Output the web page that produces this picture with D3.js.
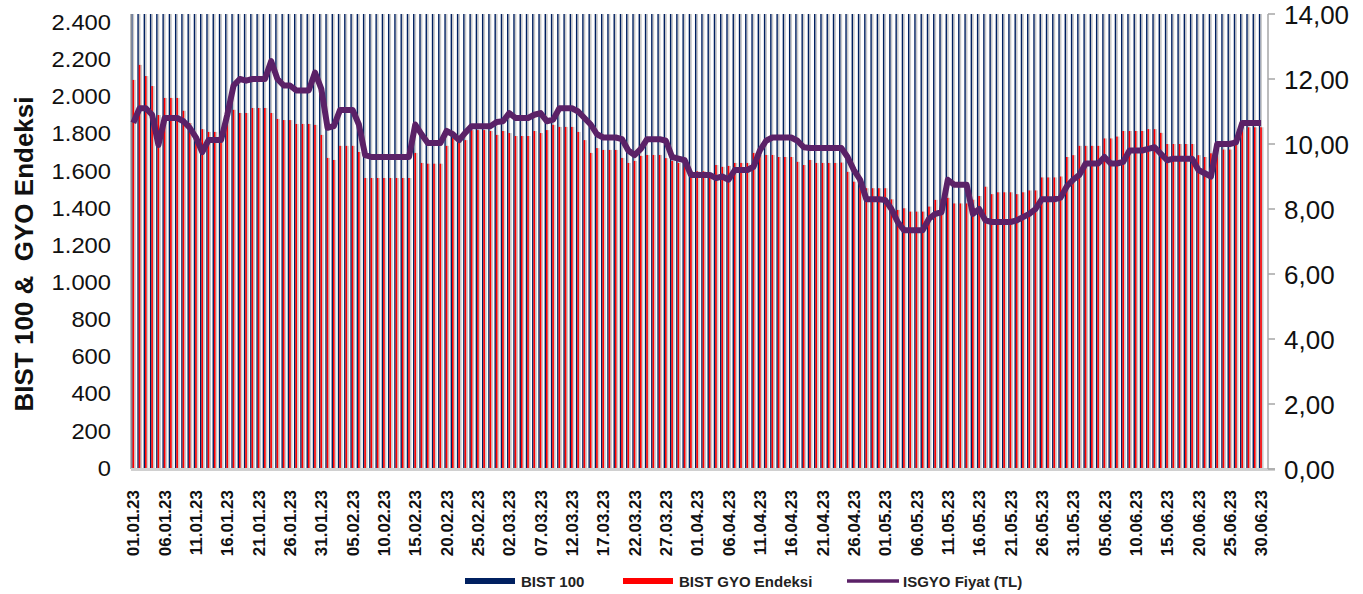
<!DOCTYPE html>
<html>
<head>
<meta charset="utf-8">
<script src="https://cdn.jsdelivr.net/npm/d3@7"></script>
<style>
  body { margin: 0; background: #fff; }
  svg text { font-family: "Liberation Sans", Arial, sans-serif; }
</style>
</head>
<body>
<svg id="chart" width="1363" height="594"></svg>
<script>
// daily categories 01.01.23 - 30.06.23
const firstDay = new Date(2023, 0, 1);
const lastDay = new Date(2023, 5, 30);

// BIST 100 (goes above the 2.400 axis max, clipped like in the source)
const bist100 = [
  5509,
  5420, 5290, 5350, 5200, 5240, 5240, 5240,
  5150, 4990, 4930, 5010, 5060, 5060, 5060,
  5110, 5170, 5180, 5140, 5190, 5190, 5190,
  5130, 5050, 5020, 4970, 4990, 4990, 4990,
  4980, 4760, 4800, 4880, 4930, 4930, 4930,
  4700, 4450, 4450, 4450, 4450, 4450, 4450,
  4450, 4450, 4560, 4850, 4700, 4700, 4700,
  4800, 4960, 4900, 4930, 5060, 5060, 5060,
  5040, 5000, 5050, 5060, 5040, 5040, 5040,
  5120, 5130, 5180, 5230, 5200, 5200, 5200,
  5110, 4950, 4800, 4820, 4850, 4850, 4850,
  4700, 4650, 4720, 4800, 4810, 4810, 4810,
  4760, 4700, 4650, 4660, 4560, 4560, 4560,
  4500, 4620, 4580, 4600, 4660, 4660, 4660,
  4760, 4750, 4760, 4790, 4760, 4760, 4760,
  4700, 4690, 4750, 4740, 4740, 4740, 4740,
  4690, 4600, 4500, 4450, 4410, 4410, 4410,
  4410, 4370, 4290, 4360, 4380, 4380, 4380,
  4420, 4530, 4600, 4800, 4700, 4700, 4700,
  4420, 4520, 4570, 4620, 4620, 4620, 4620,
  4580, 4600, 4620, 4610, 4700, 4700, 4700,
  4500, 4650, 4900, 4930, 5050, 5050, 5050,
  5200, 5250, 5340, 5420, 5470, 5470, 5470,
  5580, 5650, 5670, 5550, 5500, 5500, 5500,
  5520, 5400, 5420, 5500, 5600, 5600, 5600,
  5770, 5800, 5800, 5800, 5800
];

// BIST GYO Endeksi
const gyo = [
  2095,
  2176, 2116, 2062, 1906, 1998, 1998, 1998,
  1929, 1863, 1766, 1830, 1815, 1815, 1815,
  1889, 1934, 1917, 1917, 1944, 1944, 1944,
  1917, 1885, 1879, 1879, 1858, 1858, 1858,
  1853, 1799, 1675, 1664, 1740, 1740, 1740,
  1707, 1567, 1567, 1567, 1567, 1567, 1567,
  1567, 1567, 1702, 1648, 1644, 1644, 1644,
  1740, 1782, 1761, 1771, 1825, 1825, 1825,
  1820, 1799, 1820, 1809, 1793, 1793, 1793,
  1820, 1809, 1825, 1853, 1842, 1842, 1842,
  1815, 1771, 1702, 1728, 1718, 1718, 1718,
  1675, 1648, 1659, 1686, 1691, 1691, 1691,
  1674, 1659, 1648, 1644, 1603, 1603, 1603,
  1594, 1637, 1627, 1632, 1648, 1648, 1648,
  1702, 1691, 1691, 1691, 1680, 1680, 1680,
  1654, 1637, 1664, 1648, 1648, 1648, 1648,
  1650, 1600, 1547, 1542, 1512, 1512, 1512,
  1512, 1452, 1395, 1404, 1386, 1386, 1386,
  1413, 1449, 1452, 1460, 1430, 1430, 1430,
  1450, 1470, 1520, 1480, 1490, 1490, 1490,
  1480, 1490, 1500, 1500, 1570, 1570, 1570,
  1575, 1680, 1690, 1740, 1740, 1740, 1740,
  1780, 1780, 1790, 1820, 1820, 1820, 1820,
  1830, 1830, 1810, 1750, 1750, 1750, 1750,
  1750, 1690, 1680, 1700, 1720, 1720, 1720,
  1760, 1840, 1840, 1840, 1840
];

// ISGYO Fiyat (TL), right axis
const isgyo = [
  10.65,
  11.1, 11.1, 10.9, 9.97, 10.8, 10.8, 10.8,
  10.7, 10.5, 10.2, 9.75, 10.12, 10.12, 10.12,
  10.9, 11.8, 12.0, 11.95, 12.0, 12.0, 12.0,
  12.55, 12.0, 11.8, 11.8, 11.65, 11.65, 11.65,
  12.2, 11.7, 10.5, 10.55, 11.05, 11.05, 11.05,
  10.6, 9.66, 9.6, 9.6, 9.6, 9.6, 9.6,
  9.6, 9.6, 10.6, 10.3, 10.03, 10.03, 10.03,
  10.4, 10.3, 10.12, 10.35, 10.55, 10.55, 10.55,
  10.55, 10.68, 10.7, 10.95, 10.8, 10.8, 10.8,
  10.9, 10.95, 10.7, 10.75, 11.1, 11.1, 11.1,
  11.0, 10.8, 10.6, 10.3, 10.2, 10.2, 10.2,
  10.15, 9.8, 9.66, 9.85, 10.15, 10.15, 10.15,
  10.1, 9.6, 9.55, 9.5, 9.05, 9.05, 9.05,
  9.05, 8.95, 9.0, 8.9, 9.2, 9.2, 9.2,
  9.3, 9.8, 10.1, 10.2, 10.2, 10.2, 10.2,
  10.1, 9.9, 9.88, 9.88, 9.88, 9.88, 9.88,
  9.88, 9.6, 9.2, 8.9, 8.3, 8.3, 8.3,
  8.28, 8.0, 7.6, 7.35, 7.35, 7.35, 7.35,
  7.7, 7.85, 7.9, 8.9, 8.75, 8.75, 8.75,
  7.85, 8.0, 7.65, 7.6, 7.6, 7.6, 7.6,
  7.65, 7.75, 7.85, 8.0, 8.3, 8.3, 8.3,
  8.35, 8.7, 8.9, 9.05, 9.4, 9.4, 9.4,
  9.6, 9.4, 9.4, 9.45, 9.8, 9.8, 9.8,
  9.85, 9.9, 9.7, 9.5, 9.55, 9.55, 9.55,
  9.55, 9.2, 9.1, 9.0, 10.0, 10.0, 10.0,
  10.05, 10.65, 10.65, 10.65, 10.65
];

const leftTicks = [0, 200, 400, 600, 800, 1000, 1200, 1400, 1600, 1800, 2000, 2200, 2400];
const rightTicks = [0, 2, 4, 6, 8, 10, 12, 14];
const legendItems = ["BIST 100", "BIST GYO Endeksi", "ISGYO Fiyat (TL)"];

const colors = { bist: "#002060", gyo: "#ff0000", line: "#5b2167", shadow: "#c9c9c9", axis: "#a6a6a6" };

const tr = d3.formatLocale({ decimal: ",", thousands: ".", grouping: [3], currency: ["", " TL"] });
const fmtLeft = tr.format(",");
const fmtRight = tr.format(",.2f");
const fmtDate = d3.timeFormat("%d.%m.%y");

const days = d3.timeDay.range(firstDay, d3.timeDay.offset(lastDay, 1));
const data = days.map((d, i) => ({ label: fmtDate(d), bist: bist100[i], gyo: gyo[i], price: isgyo[i] }));

const area = { left: 131, right: 1268, top: 14, bottom: 469 };

const svg = d3.select("#chart");

const x = d3.scaleBand().domain(data.map(d => d.label)).range([130.2, 1264.2]);
const yL = d3.scaleLinear().domain([0, 2450]).range([area.bottom, area.top]);
const yR = d3.scaleLinear().domain([0, 14]).range([area.bottom, area.top]);

svg.append("clipPath").attr("id", "plotclip")
  .append("rect")
  .attr("x", area.left).attr("y", area.top)
  .attr("width", area.right - area.left).attr("height", area.bottom - area.top);

// positions inside each day band
const navyX = 0.9, navyW = 1.4, redX = 2.3, redW = 1.6, shOff = 1.4, shW = 1.7;
const bars = svg.append("g").attr("clip-path", "url(#plotclip)");

// bar shadows first
bars.append("g").selectAll("rect").data(data).join("rect")
  .attr("x", d => x(d.label) + navyX + shOff)
  .attr("y", d => yL(d.bist))
  .attr("width", shW)
  .attr("height", d => yL(0) - yL(d.bist))
  .attr("fill", colors.shadow);

bars.append("g").selectAll("rect").data(data).join("rect")
  .attr("x", d => x(d.label) + redX + shOff + 0.2)
  .attr("y", d => yL(d.gyo))
  .attr("width", shW)
  .attr("height", d => yL(0) - yL(d.gyo))
  .attr("fill", colors.shadow);

bars.append("g").selectAll("rect").data(data).join("rect")
  .attr("x", d => x(d.label) + navyX)
  .attr("y", d => yL(d.bist))
  .attr("width", navyW)
  .attr("height", d => yL(0) - yL(d.bist))
  .attr("fill", colors.bist);

bars.append("g").selectAll("rect").data(data).join("rect")
  .attr("x", d => x(d.label) + redX)
  .attr("y", d => yL(d.gyo))
  .attr("width", redW)
  .attr("height", d => yL(0) - yL(d.gyo))
  .attr("fill", colors.gyo);

// axis lines
svg.append("line")
  .attr("x1", area.left).attr("x2", area.left)
  .attr("y1", area.top).attr("y2", area.bottom)
  .attr("stroke", colors.axis).attr("stroke-width", 1.5);
svg.append("line")
  .attr("x1", area.left).attr("x2", area.right + 7)
  .attr("y1", area.bottom + 0.5).attr("y2", area.bottom + 0.5)
  .attr("stroke", "#d0d0d0").attr("stroke-width", 3);
svg.append("line")
  .attr("x1", area.right).attr("x2", area.right)
  .attr("y1", area.top).attr("y2", area.bottom)
  .attr("stroke", colors.axis).attr("stroke-width", 1.5);

// right axis ticks
svg.append("g").selectAll("line").data(rightTicks).join("line")
  .attr("x1", area.right).attr("x2", area.right + 7)
  .attr("y1", d => yR(d)).attr("y2", d => yR(d))
  .attr("stroke", colors.axis).attr("stroke-width", 1.5);

// ISGYO line
svg.append("path")
  .datum(data)
  .attr("fill", "none")
  .attr("stroke", colors.line)
  .attr("stroke-width", 6)
  .attr("stroke-linejoin", "round")
  .attr("d", d3.line().x(d => x(d.label) + x.bandwidth() / 2).y(d => yR(d.price)));

// left tick labels (source font is a bit wide)
svg.append("g").selectAll("text").data(leftTicks).join("text")
  .attr("transform", d => `translate(111,${yL(d) - 1}) scale(1.08,1)`)
  .attr("text-anchor", "end")
  .attr("dominant-baseline", "central")
  .attr("font-size", 22)
  .attr("fill", "#111")
  .text(d => fmtLeft(d));

// right tick labels
svg.append("g").selectAll("text").data(rightTicks).join("text")
  .attr("x", 1284)
  .attr("y", d => yR(d) + 1)
  .attr("text-anchor", "start")
  .attr("dominant-baseline", "central")
  .attr("font-size", 26)
  .attr("fill", "#111")
  .text(d => fmtRight(d));

// date labels every 5 days
svg.append("g").selectAll("text").data(data.filter((d, i) => i % 5 === 0)).join("text")
  .attr("transform", d => `translate(${x(d.label) + x.bandwidth() / 2},490) rotate(-90)`)
  .attr("text-anchor", "end")
  .attr("dy", "0.36em")
  .attr("font-size", 17)
  .attr("font-weight", "bold")
  .attr("fill", "#111")
  .text(d => d.label);

// axis title
svg.append("text")
  .attr("transform", "translate(24,254) rotate(-90)")
  .attr("text-anchor", "middle")
  .attr("dominant-baseline", "central")
  .attr("font-size", 26)
  .attr("font-weight", "bold")
  .attr("fill", "#111")
  .style("white-space", "pre")
  .text("BIST 100 &  GYO Endeksi");

// legend
const legendX = [465, 623, 847];
const legend = svg.append("g");
legendItems.forEach((name, i) => {
  if (i < 2) {
    legend.append("rect")
      .attr("x", legendX[i]).attr("y", 578)
      .attr("width", 50).attr("height", 6)
      .attr("fill", i === 0 ? colors.bist : colors.gyo);
  } else {
    legend.append("line")
      .attr("x1", legendX[i]).attr("x2", legendX[i] + 52)
      .attr("y1", 581).attr("y2", 581)
      .attr("stroke", colors.line).attr("stroke-width", 3.5);
  }
  legend.append("text")
    .attr("x", legendX[i] + 56)
    .attr("y", 587)
    .attr("font-size", 15)
    .attr("font-weight", "bold")
    .attr("fill", "#222")
    .text(name);
});
</script>
</body>
</html>
